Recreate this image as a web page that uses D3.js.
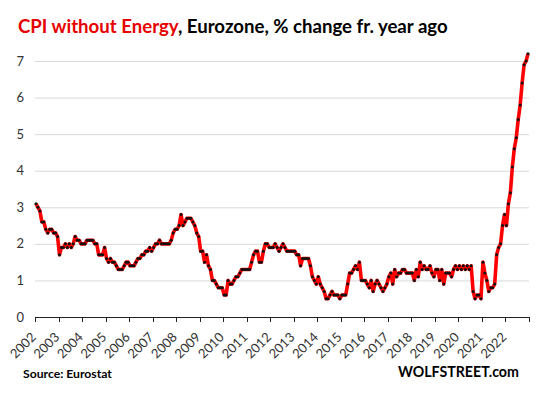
<!DOCTYPE html>
<html><head><meta charset="utf-8">
<script src="https://cdn.jsdelivr.net/npm/d3@7"></script>
<style>body{margin:0;background:#fff}svg{display:block}</style>
</head><body>
<svg id="c" width="554" height="399"></svg>
<script>
const years = ["2002","2003","2004","2005","2006","2007","2008","2009","2010","2011","2012","2013","2014","2015","2016","2017","2018","2019","2020","2021","2022"];
const yTicks = [0,1,2,3,4,5,6,7];
// monthly % change year-over-year, Jan 2002 .. Dec 2022
const v2002 = [3.1,3.0,2.9,2.6,2.6,2.4,2.3,2.4,2.4,2.3,2.3,2.2];
const v2003 = [1.7,1.9,1.9,2.0,1.9,2.0,1.9,2.0,2.2,2.1,2.1,2.0];
const v2004 = [2.0,2.0,2.1,2.1,2.1,2.1,2.0,2.0,1.7,1.7,1.7,1.9];
const v2005 = [1.6,1.5,1.6,1.5,1.5,1.4,1.3,1.3,1.3,1.4,1.5,1.5];
const v2006 = [1.4,1.4,1.4,1.5,1.6,1.6,1.7,1.7,1.8,1.8,1.9,1.8];
const v2007 = [1.9,2.0,2.0,2.1,2.0,2.0,2.0,2.0,2.0,2.1,2.3,2.4];
const v2008 = [2.4,2.5,2.8,2.5,2.6,2.7,2.7,2.7,2.6,2.5,2.3,2.2];
const v2009 = [1.8,1.8,1.5,1.7,1.4,1.3,1.0,1.0,0.9,0.8,0.8,0.8];
const v2010 = [0.6,0.6,1.0,0.9,0.9,1.0,1.1,1.1,1.2,1.3,1.3,1.3];
const v2011 = [1.3,1.3,1.5,1.7,1.8,1.8,1.5,1.5,1.8,2.0,2.0,1.9];
const v2012 = [1.9,1.9,2.0,1.9,1.8,1.9,2.0,1.9,1.8,1.8,1.8,1.8];
const v2013 = [1.8,1.7,1.7,1.4,1.6,1.6,1.6,1.6,1.4,1.1,1.0,0.9];
const v2014 = [1.1,0.9,0.8,0.7,0.5,0.5,0.6,0.7,0.6,0.6,0.6,0.5];
const v2015 = [0.6,0.6,0.6,0.9,1.2,1.2,1.3,1.4,1.3,1.5,1.0,1.0];
const v2016 = [1.0,0.9,0.8,1.0,0.7,0.9,1.0,0.9,0.8,0.7,0.8,0.9];
const v2017 = [1.1,1.2,0.9,1.3,1.1,1.2,1.2,1.3,1.3,1.2,1.2,1.2];
const v2018 = [1.2,1.0,1.3,1.1,1.5,1.3,1.4,1.3,1.3,1.4,1.2,1.1];
const v2019 = [1.3,1.3,1.0,1.3,0.9,1.2,1.2,1.2,1.1,1.3,1.4,1.3];
const v2020 = [1.4,1.3,1.4,1.3,1.4,1.3,1.4,0.7,0.5,0.6,0.6,0.5];
const v2021 = [1.5,1.2,1.0,0.7,0.8,0.8,0.9,1.7,1.9,2.0,2.5,2.8];
const v2022 = [2.5,3.1,3.4,4.1,4.6,4.9,5.4,5.8,6.4,6.9,7.0,7.2];
const values = [].concat(v2002,v2003,v2004,v2005,v2006,v2007,v2008,v2009,v2010,v2011,v2012,v2013,v2014,v2015,v2016,v2017,v2018,v2019,v2020,v2021,v2022);

const svg = d3.select("#c");
const L = 35, R = 529, T = 61, B = 317;
const x = d3.scaleLinear().domain([0, values.length]).range([L, R]);
const y = d3.scaleLinear().domain([0, 7]).range([B, T]);

// gridlines
svg.append("g").selectAll("line").data(yTicks.filter(d => d > 0)).join("line")
  .attr("x1", L).attr("x2", R).attr("y1", d => y(d) + 0.5).attr("y2", d => y(d) + 0.5)
  .attr("stroke", "#d9d9d9").attr("stroke-width", 1);

// y labels
svg.append("g").selectAll("text").data(yTicks).join("text")
  .attr("x", 24).attr("y", d => y(d) + 4.5).attr("text-anchor", "end")
  .attr("font-family", "Lato, 'Liberation Sans', sans-serif").attr("font-size", 13)
  .attr("fill", "#333").text(d => d);

// x axis
const xa = svg.append("g");
xa.append("line").attr("x1", L).attr("x2", R).attr("y1", B + 0.5).attr("y2", B + 0.5)
  .attr("stroke", "#222").attr("stroke-width", 1);
const tickIdx = d3.range(0, years.length + 1).map(k => k * 12);
xa.selectAll("line.t").data(tickIdx).join("line").attr("class", "t")
  .attr("x1", d => Math.round(x(d)) + 0.5).attr("x2", d => Math.round(x(d)) + 0.5)
  .attr("y1", B).attr("y2", B + 5).attr("stroke", "#222");
xa.selectAll("text").data(years).join("text")
  .attr("transform", (d, k) => `translate(${x(k * 12 + 6) - 10},${B + 21}) rotate(-45)`)
  .attr("text-anchor", "end")
  .attr("font-family", "Lato, 'Liberation Sans', sans-serif").attr("font-size", 13)
  .attr("fill", "#333").text(d => d);

// line
const line = d3.line().x((d, k) => x(k + 0.5)).y(d => y(d));
svg.append("path").datum(values).attr("d", line).attr("fill", "none")
  .attr("stroke", "#ff0000").attr("stroke-width", 3.6).attr("stroke-linejoin", "round");
svg.append("g").selectAll("circle").data(values).join("circle")
  .attr("cx", (d, k) => x(k + 0.5)).attr("cy", d => y(d)).attr("r", 1.5).attr("fill", "#111");

// title
function fit(sel, w) {
  const n = sel.node(); const fs = +sel.attr("font-size");
  const cw = n.getComputedTextLength();
  sel.attr("font-size", fs * w / cw);
}
const title = svg.append("text").attr("x", 18).attr("y", 33)
  .attr("font-family", "Lato, 'Liberation Sans', sans-serif").attr("font-weight", "bold").attr("font-size", 20);
title.append("tspan").attr("fill", "#e60000").text("CPI without Energy");
title.append("tspan").attr("fill", "#000").text(", Eurozone, % change fr. year ago");
fit(title, 430);

const src = svg.append("text").attr("x", 23).attr("y", 378)
  .attr("font-family", "Lato, 'Liberation Sans', sans-serif").attr("font-weight", "bold").attr("font-size", 12)
  .attr("fill", "#000").text("Source: Eurostat");
fit(src, 89);
const ws = svg.append("text").attr("x", 398).attr("y", 377)
  .attr("font-family", "Lato, 'Liberation Sans', sans-serif").attr("font-weight", "bold").attr("font-size", 15)
  .attr("fill", "#000").text("WOLFSTREET.com");
fit(ws, 121);
</script>
</body></html>
